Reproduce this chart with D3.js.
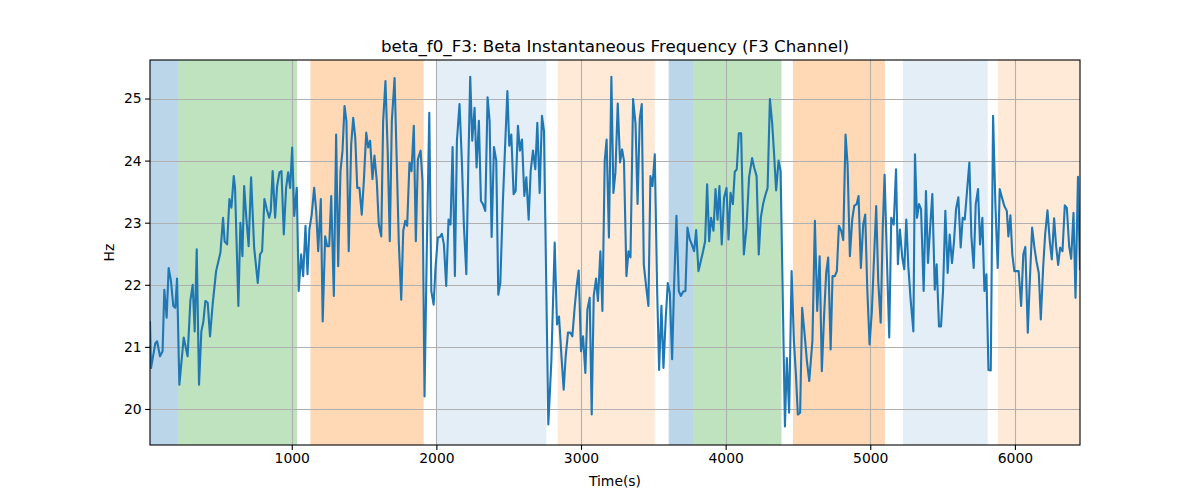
<!DOCTYPE html>
<html>
<head>
<meta charset="utf-8">
<script src="https://cdn.jsdelivr.net/npm/d3@7"></script>
<style>
  html, body { margin: 0; padding: 0; background: #fff; }
  svg { display: block; font-family: "DejaVu Sans", sans-serif; }
</style>
</head>
<body>
<svg id="chart" width="1200" height="500"></svg>
<script>
const title = "beta_f0_F3: Beta Instantaneous Frequency (F3 Channel)";
const xLabel = "Time(s)";
const yLabel = "Hz";
const xTicks = [1000, 2000, 3000, 4000, 5000, 6000];
const yTicks = [20, 21, 22, 23, 24, 25];
const xDomain = [20, 6450];
const yDomain = [19.42, 25.62];

const spanStart = [20, 216, 1129, 2004, 2839, 3606, 3778, 4465, 5226, 5883];
const spanEnd   = [216, 1037, 1912, 2760, 3510, 3778, 4386, 5101, 5812, 6450];
const spanKind  = ["blue", "green", "orange", "lightblue", "lightorange", "blue", "green", "orange", "lightblue", "lightorange"];

const times = [20,27,57,69,89,107,119,135,149,165,181,195,207,223,253,280,299,315,329,343,359,375,389,403,419,435,453,477,507,525,536,553,569,583,599,608,631,645,659,671,
686,702,719,740,765,781,795,811,827,844,855,868,885,899,915,929,945,961,975,989,1003,1017,1035,1048,1065,1079,1095,1109,1122,1138,1155,1169,1183,1201,1214,1231,1245,1259,1273,1291,1307,1321,
1337,1351,1365,1378,1394,1411,1425,1439,1453,1468,1484,1498,1515,1529,1542,1558,1572,1588,1602,1619,1632,1648,1664,1678,1692,1711,1724,1740,1757,1771,1785,1798,1814,1828,1844,1858,1872,1891,1904,1918,1934,1951,1965,1981,
1994,2010,2024,2038,2052,2068,2084,2098,2112,2128,2142,2160,2176,2190,2207,2221,2234,2248,2264,2278,2294,2308,2322,2338,2354,2368,2382,2398,2414,2428,2442,2460,2474,2491,2504,2518,2534,2548,2564,2578,2592,2608,2622,2638,
2652,2668,2684,2698,2714,2730,2744,2774,2795,2818,2834,2848,2864,2880,2894,2910,2926,2940,2956,2970,2984,3000,3014,3030,3044,3060,3074,3088,3104,3117,3134,3148,3164,3177,3193,3210,3224,3238,3254,3270,3284,3297,
3314,3328,3342,3360,3377,3391,3406,3420,3434,3450,3466,3480,3494,3510,3526,3540,3556,3570,3586,3600,3614,3630,3643,3660,3676,3690,3706,3722,3736,3752,3766,3782,3796,3812,3828,3844,3858,3872,3886,3899,3916,3930,3944,3957,
3973,3989,4006,4020,4034,4050,4063,4077,4091,4107,4126,4144,4162,4183,4197,4214,4229,4243,4259,4273,4290,4306,4322,4335,4349,4366,4380,4410,4423,4439,4456,4472,4486,4499,4515,4529,4546,4562,4578,4600,
4617,4633,4650,4665,4681,4695,4709,4726,4739,4755,4769,4783,4799,4813,4829,4843,4859,4875,4889,4906,4919,4935,4951,4965,4979,4995,5011,5025,5041,5055,5072,5086,5099,5115,5131,5145,5162,5178,5191,5205,5221,5235,5249,5263,
5279,5298,5309,5323,5337,5351,5369,5385,5399,5413,5429,5446,5459,5475,5489,5503,5519,5535,5549,5565,5579,5593,5609,5625,5639,5653,5669,5685,5699,5715,5729,5745,5759,5775,5789,5803,5817,5833,5849,5865,5881,5895,5911,5927,5944,5955,5969,5982,5996,
6010,6026,6043,6058,6072,6089,6103,6119,6135,6149,6165,6179,6195,6209,6225,6241,6255,6271,6285,6299,6313,6329,6345,6359,6375,6389,6405,6419,6436,6450];

const hz = [21.40,20.66,21.06,21.09,20.85,20.93,21.92,21.47,22.27,22.06,21.66,21.63,22.10,20.39,21.15,20.85,21.74,22.00,21.25,22.57,20.39,21.25,21.41,21.74,21.71,21.17,21.68,22.22,22.52,23.08,22.70,22.65,23.38,23.24,23.75,23.56,21.66,23.00,22.46,23.59,
23.08,22.62,23.73,22.60,22.03,22.49,22.54,23.38,23.22,23.08,23.19,23.83,23.08,23.59,23.81,23.83,22.81,23.56,23.81,23.56,24.21,23.11,23.56,21.90,22.49,22.14,22.95,22.17,22.89,23.13,23.56,23.19,22.54,23.38,21.41,22.78,22.62,22.62,23.43,21.82,24.42,22.30,
23.83,24.16,24.88,24.64,22.54,24.26,24.69,24.37,23.56,23.56,23.13,23.65,24.45,24.21,24.32,23.70,24.08,23.67,22.97,22.78,24.64,25.28,24.10,22.70,24.64,25.33,24.16,22.70,21.76,22.87,23.03,22.95,23.97,23.83,24.56,22.70,24.02,24.16,23.67,20.20,22.60,24.77,21.90,21.68,
22.27,22.76,22.77,22.82,22.65,21.98,23.05,22.97,24.22,22.14,24.32,24.91,24.00,22.97,22.17,23.94,25.35,24.32,24.85,23.89,24.64,23.35,23.30,23.19,25.02,24.64,22.77,24.22,24.00,21.84,22.03,23.35,24.16,25.12,24.24,24.42,23.46,23.51,24.56,24.16,24.34,23.43,23.73,23.05,
23.83,24.16,23.86,24.61,23.48,24.72,24.48,19.75,20.77,22.68,21.36,21.49,20.88,20.31,20.85,21.23,21.23,21.17,21.63,21.98,22.23,20.93,21.17,20.58,21.60,21.79,19.91,21.82,22.10,21.74,22.54,21.58,24.00,24.34,22.76,25.35,23.48,23.81,24.92,23.97,24.18,24.00,
22.14,22.54,22.44,24.99,24.59,23.30,24.67,24.91,22.33,21.98,21.66,23.75,23.59,24.10,21.95,20.63,21.66,20.66,21.47,22.03,21.87,20.80,21.95,23.11,21.90,21.82,21.89,21.90,22.92,22.73,22.65,22.54,22.88,22.22,22.38,22.54,22.70,23.62,22.70,23.08,22.87,23.54,23.05,23.59,
22.65,23.40,23.56,22.73,23.48,23.30,23.82,23.86,24.44,24.44,22.49,22.92,23.73,24.04,23.89,23.75,22.49,23.08,23.30,23.43,23.56,24.99,24.59,24.10,23.52,24.00,23.83,19.72,20.82,19.94,22.22,21.09,20.55,19.91,19.94,21.63,21.20,20.77,20.45,21.10,
23.03,21.58,22.46,20.61,21.52,22.19,22.44,20.96,22.14,22.14,22.22,22.95,22.87,22.72,24.42,23.94,22.46,23.05,23.27,23.30,23.43,22.27,22.97,23.13,21.95,21.04,21.58,22.38,23.27,22.06,21.39,22.90,23.77,22.41,21.15,23.08,22.97,23.86,22.33,22.89,22.44,22.25,23.05,22.30,
21.76,21.25,24.10,23.08,23.30,23.22,21.90,23.51,22.35,22.89,23.46,21.92,22.33,21.33,21.33,21.90,23.19,22.19,22.81,22.35,22.70,23.22,23.41,22.60,23.08,23.05,23.51,23.97,22.78,22.27,23.30,23.54,22.65,23.08,21.90,22.17,20.63,20.62,24.72,23.30,22.27,23.54,23.40,23.27,23.19,22.78,23.12,22.49,22.22,
22.22,22.22,21.66,22.49,22.61,21.23,22.06,22.92,22.60,22.38,22.19,21.44,22.27,22.81,23.20,22.70,22.41,23.07,22.62,22.32,22.60,22.54,23.28,23.24,22.62,22.42,23.16,21.79,23.74,22.25];

const spanFill = {
  blue: "rgba(31,119,180,0.3)",
  green: "rgba(44,160,44,0.3)",
  orange: "rgba(255,127,14,0.3)",
  lightblue: "rgba(31,119,180,0.12)",
  lightorange: "rgba(255,127,14,0.16)"
};

const svg = d3.select("#chart");
const L = 150, R = 1080, T = 60, B = 445;
const x = d3.scaleLinear().domain(xDomain).range([L, R]);
const y = d3.scaleLinear().domain(yDomain).range([B, T]);

const data = times.map((t, i) => ({ t, v: hz[i] }));

// spans
svg.append("g").selectAll("rect").data(spanStart.map((s, i) => ({ s, e: spanEnd[i], k: spanKind[i] })))
  .join("rect")
  .attr("x", d => x(d.s)).attr("width", d => x(d.e) - x(d.s))
  .attr("y", T).attr("height", B - T)
  .attr("fill", d => spanFill[d.k]);

// grid
const grid = svg.append("g");
grid.selectAll(".gx").data(xTicks).join("line")
  .attr("x1", d => Math.round(x(d)) + 0.5).attr("x2", d => Math.round(x(d)) + 0.5)
  .attr("y1", T).attr("y2", B)
  .attr("stroke", "#b0b0b0").attr("stroke-width", 1.1);
grid.selectAll(".gy").data(yTicks).join("line")
  .attr("y1", d => Math.round(y(d)) + 0.5).attr("y2", d => Math.round(y(d)) + 0.5)
  .attr("x1", L).attr("x2", R)
  .attr("stroke", "#b0b0b0").attr("stroke-width", 1.1);

// line
const clip = svg.append("clipPath").attr("id", "clip").append("rect")
  .attr("x", L).attr("y", T).attr("width", R - L).attr("height", B - T);
svg.append("path").datum(data)
  .attr("clip-path", "url(#clip)")
  .attr("fill", "none").attr("stroke", "#1f77b4").attr("stroke-width", 2.1)
  .attr("stroke-linejoin", "round").attr("stroke-linecap", "square")
  .attr("d", d3.line().x(d => x(d.t)).y(d => y(d.v)));

// axes
const xAxis = svg.append("g").attr("transform", `translate(0,${B})`)
  .call(d3.axisBottom(x).tickValues(xTicks).tickFormat(d3.format("d")).tickSize(4.9).tickPadding(3.5));
const yAxis = svg.append("g").attr("transform", `translate(${L},0)`)
  .call(d3.axisLeft(y).tickValues(yTicks).tickFormat(d3.format("d")).tickSize(4.9).tickPadding(3.5));
[xAxis, yAxis].forEach(g => {
  g.selectAll("text").attr("font-family", "DejaVu Sans, sans-serif").attr("font-size", 13.9).attr("fill", "#000");
  g.selectAll("line").attr("stroke", "#000").attr("stroke-width", 1.1);
  g.select(".domain").remove();
});

// frame
svg.append("rect").attr("x", L).attr("y", T).attr("width", R - L).attr("height", B - T)
  .attr("fill", "none").attr("stroke", "#000").attr("stroke-width", 1.1);

// labels
svg.append("text").attr("x", (L + R) / 2).attr("y", 52).attr("text-anchor", "middle")
  .attr("font-size", 16.7).attr("fill", "#000").text(title);
svg.append("text").attr("x", (L + R) / 2).attr("y", 486).attr("text-anchor", "middle")
  .attr("font-size", 13.9).attr("fill", "#000").text(xLabel);
svg.append("text").attr("transform", `translate(114,${(T + B) / 2}) rotate(-90)`).attr("text-anchor", "middle")
  .attr("font-size", 13.9).attr("fill", "#000").text(yLabel);
</script>
</body>
</html>
